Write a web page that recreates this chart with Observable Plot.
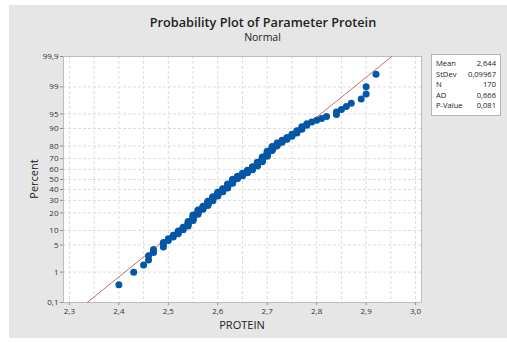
<!DOCTYPE html>
<html><head><meta charset="utf-8">
<script src="https://cdn.jsdelivr.net/npm/d3@7"></script>
<script src="https://cdn.jsdelivr.net/npm/@observablehq/plot@0.6"></script>
<style>
html,body{margin:0;padding:0;background:#fff;}
#wrap{position:relative;width:507px;height:343px;overflow:hidden;font-family:"Open Sans","Noto Sans",sans-serif;color:#222;}
#panel{position:absolute;left:9px;top:5px;width:498px;height:333px;background:#e6e6e6;}
#chart{position:absolute;left:0;top:0;}
#title{position:absolute;left:0;width:526px;top:13px;text-align:center;font-size:12.7px;font-weight:600;color:#222;}
#subtitle{position:absolute;left:0;width:525px;top:30px;text-align:center;font-size:10.5px;color:#222;}
#xlabel{position:absolute;left:63px;width:358px;top:317px;text-align:center;font-size:11px;color:#222;}
#ylabel{position:absolute;left:33px;top:179px;transform:translate(-50%,-50%) rotate(-90deg);font-size:11px;color:#222;white-space:nowrap;}
#legend{position:absolute;left:431px;top:54px;width:70px;height:62px;background:#fff;border:1px solid #b5b5b5;box-sizing:border-box;padding:3px 4px;font-size:7.6px;line-height:10.5px;}
#legend .row{display:flex;justify-content:space-between;}
svg [aria-label="x-axis tick"], svg [aria-label="y-axis tick"]{stroke:#8c8c8c;}
</style>
</head><body>
<div id="wrap">
  <div id="panel"></div>
  <div id="chart"></div>
  <div id="title">Probability Plot of Parameter Protein</div>
  <div id="subtitle">Normal</div>
  <div id="xlabel">PROTEIN</div>
  <div id="ylabel">Percent</div>
  <div id="legend"></div>
</div>
<script>
// ---- data ----
const proteinValues = [2.40,2.43,2.45,2.46,2.47,2.49,2.50,2.51,2.52,2.53,2.54,2.55,2.56,2.57,2.58,2.59,2.60,2.61,2.62,2.63,2.64,2.65,2.66,2.67,2.68,2.69,2.70,2.71,2.72,2.73,2.74,2.75,2.76,2.77,2.78,2.79,2.80,2.81,2.82,2.84,2.85,2.86,2.87,2.89,2.90,2.92];
const valueCounts   = [1,1,1,2,2,3,2,2,3,3,5,7,6,5,7,7,7,6,8,8,5,5,5,6,7,8,8,6,4,3,3,3,3,3,2,1,1,1,1,2,1,1,1,1,2,1];
const fitMean = 2.644;
const fitStDev = 0.09967;
const statLabels = ["Mean","StDev","N","AD","P-Value"];
const statValues = ["2,644","0,09967","170","0,666","0,081"];
const yTickPercents = [0.1,1,5,10,20,30,40,50,60,70,80,90,95,99,99.9];
const yTickLabels = ["0,1","1","5","10","20","30","40","50","60","70","80","90","95","99","99,9"];
const xTickValues = [2.3,2.4,2.5,2.6,2.7,2.8,2.9,3.0];
const xTickLabels = ["2,3","2,4","2,5","2,6","2,7","2,8","2,9","3,0"];
const xGridValues = [2.3,2.35,2.4,2.45,2.5,2.55,2.6,2.65,2.7,2.75,2.8,2.85,2.9,2.95,3.0];

// inverse standard normal CDF (Acklam)
function probit(p){
  const a=[-3.969683028665376e+01,2.209460984245205e+02,-2.759285104469687e+02,1.383577518672690e+02,-3.066479806614716e+01,2.506628277459239e+00];
  const b=[-5.447609879822406e+01,1.615858368580409e+02,-1.556989798598866e+02,6.680131188771972e+01,-1.328068155288572e+01];
  const c=[-7.784894002430293e-03,-3.223964580411365e-01,-2.400758277161838e+00,-2.549671050256911e+00,4.374664141464968e+00,2.938163982698783e+00];
  const d=[7.784695709041462e-03,3.224671290700398e-01,2.445134137142996e+00,3.754408661907416e+00];
  const pl=0.02425, ph=1-pl; let q,r;
  if(p<pl){q=Math.sqrt(-2*Math.log(p));return (((((c[0]*q+c[1])*q+c[2])*q+c[3])*q+c[4])*q+c[5])/((((d[0]*q+d[1])*q+d[2])*q+d[3])*q+1);}
  if(p<=ph){q=p-0.5;r=q*q;return (((((a[0]*r+a[1])*r+a[2])*r+a[3])*r+a[4])*r+a[5])*q/(((((b[0]*r+b[1])*r+b[2])*r+b[3])*r+b[4])*r+1);}
  q=Math.sqrt(-2*Math.log(1-p));return -(((((c[0]*q+c[1])*q+c[2])*q+c[3])*q+c[4])*q+c[5])/((((d[0]*q+d[1])*q+d[2])*q+d[3])*q+1);
}

// expand values and place each at its median-rank plotting position
const sample = [];
proteinValues.forEach((v,k)=>{ for(let j=0;j<valueCounts[k];j++) sample.push(v); });
const n = sample.length;
const points = sample.map((v,i)=>({v, z: probit((i+1-0.3)/(n+0.4))}));

const zLo = probit(0.001), zHi = probit(0.999);
const fitLine = [zLo, zHi].map(z=>({v: fitMean + fitStDev*z, z}));
const yTickZ = yTickPercents.map(p=>probit(p/100));
const yFmt = new Map(yTickZ.map((z,i)=>[z, yTickLabels[i]]));
const xFmt = new Map(xTickValues.map((x,i)=>[x, xTickLabels[i]]));

const chart = Plot.plot({
  width: 507, height: 343,
  marginLeft: 63, marginRight: 86, marginTop: 56, marginBottom: 41,
  style: {background: "transparent", fontSize: "8px", fontFamily: "'Open Sans','Noto Sans',sans-serif", color: "#333"},
  x: {domain: [2.288, 3.012], ticks: xTickValues, tickFormat: d => xFmt.get(d), tickSize: 3, tickPadding: 3, label: null},
  y: {domain: [zLo, zHi], ticks: yTickZ, tickFormat: d => yFmt.get(d), tickSize: 3, tickPadding: 2, label: null},
  marks: [
    Plot.frame({fill: "#ffffff", stroke: "none"}),
    Plot.ruleX(xGridValues, {stroke: "#dcdcdc", strokeDasharray: "3,2", strokeWidth: 1}),
    Plot.ruleY(yTickZ, {stroke: "#dcdcdc", strokeDasharray: "3,2", strokeWidth: 1}),
    Plot.frame({stroke: "#bdbdbd"}),
    Plot.line(fitLine, {x: "v", y: "z", stroke: "#c86e6e", strokeWidth: 1}),
    Plot.dot(points, {x: "v", y: "z", r: 3.5, fill: "#0457a7", stroke: "none"})
  ]
});
document.getElementById("chart").appendChild(chart);

const leg = document.getElementById("legend");
statLabels.forEach((l,i)=>{
  const row = document.createElement("div"); row.className = "row";
  const a = document.createElement("span"); a.textContent = l;
  const b = document.createElement("span"); b.textContent = statValues[i];
  row.appendChild(a); row.appendChild(b); leg.appendChild(row);
});
</script>
</body></html>
